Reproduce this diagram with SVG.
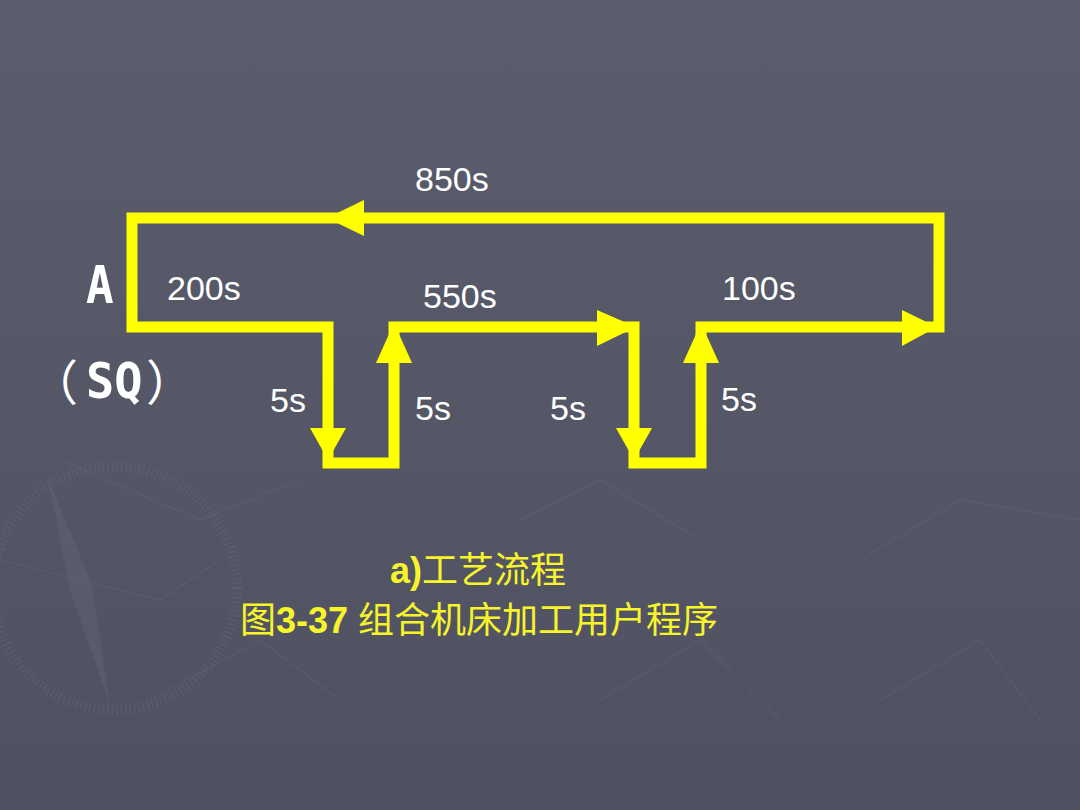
<svg xmlns="http://www.w3.org/2000/svg" width="1080" height="810" viewBox="0 0 1080 810">
<defs>
<linearGradient id="bg" x1="0" y1="0" x2="0" y2="1">
<stop offset="0" stop-color="#5b5d6d"/>
<stop offset="1" stop-color="#4f5161"/>
</linearGradient>
<style>
.flow{fill:none;stroke:#ffff00;stroke-width:11;stroke-linejoin:miter;stroke-linecap:square}
.head{fill:#ffff00}
.lbl{font-family:"Liberation Sans",Arial,sans-serif;font-size:34px;fill:#ffffff}
.big{font-family:"DejaVu Sans Mono",monospace;font-weight:bold;font-size:46px;fill:#ffffff}
.par{font-family:"Noto Sans CJK SC",sans-serif;font-size:48px;fill:#ffffff}
.cap{font-size:36px;fill:#f7f52a}
.lat{font-family:"Liberation Sans",Arial,sans-serif;font-weight:bold}
.cjk{font-family:"Noto Sans CJK SC",sans-serif}
.deco{fill:none;stroke:#6a6c7b;stroke-opacity:0.35}
</style>
</defs>
<rect width="1080" height="810" fill="url(#bg)"/>
<g id="background-decor">
<circle class="deco" cx="115" cy="588" r="122" stroke-width="10" stroke-dasharray="1.5 3"/>
<polygon points="48,478 92,585 110,705 70,590" fill="#6a6c7b" fill-opacity="0.3"/>
<path class="deco" stroke-width="1.2" d="M0,560 L160,600 L220,560 M60,460 L200,520 L300,480 M150,700 L260,640 L340,700 M520,520 L600,480 L700,540 M860,560 L960,500 L1080,520 M880,700 L980,640 L1040,720 M600,700 L700,640 L780,720"/>
</g>
<g id="connectors">
<path class="flow" d="M328,327 H132 V218 H939 V327 H701 V463 H634 V327 H394 V463 H328 Z"/>
<polygon class="head" points="310,428 346,428 328,460"/>
<polygon class="head" points="376,363 412,363 394,323"/>
<polygon class="head" points="597,310 597,346 636,327"/>
<polygon class="head" points="616,428 652,428 634,460"/>
<polygon class="head" points="683,363 719,363 701,323"/>
<polygon class="head" points="902,310 902,346 937,327"/>
<polygon class="head" points="364,200 364,236 327,218"/>
</g>
<g id="node-A">
<text class="big" transform="translate(86,303) scale(1,1.12)" x="0" y="0">A</text>
<text class="par" x="30" y="400">（</text>
<text class="big" transform="translate(86,398) scale(1.02,1.1)" x="0" y="0">SQ</text>
<text class="par" x="146" y="400">）</text>
</g>
<g id="labels">
<text class="lbl" x="415" y="191">850s</text>
<text class="lbl" x="167" y="300">200s</text>
<text class="lbl" x="423" y="308">550s</text>
<text class="lbl" x="722" y="300">100s</text>
<text class="lbl" x="270" y="412">5s</text>
<text class="lbl" x="415" y="420">5s</text>
<text class="lbl" x="550" y="420">5s</text>
<text class="lbl" x="721" y="411">5s</text>
</g>
<g id="caption">
<text class="cap" x="390" y="583"><tspan class="lat">a)</tspan><tspan class="cjk">工艺流程</tspan></text>
<text class="cap" x="240" y="633"><tspan class="cjk">图</tspan><tspan class="lat">3-37 </tspan><tspan class="cjk">组合机床加工用户程序</tspan></text>
</g>
</svg>
